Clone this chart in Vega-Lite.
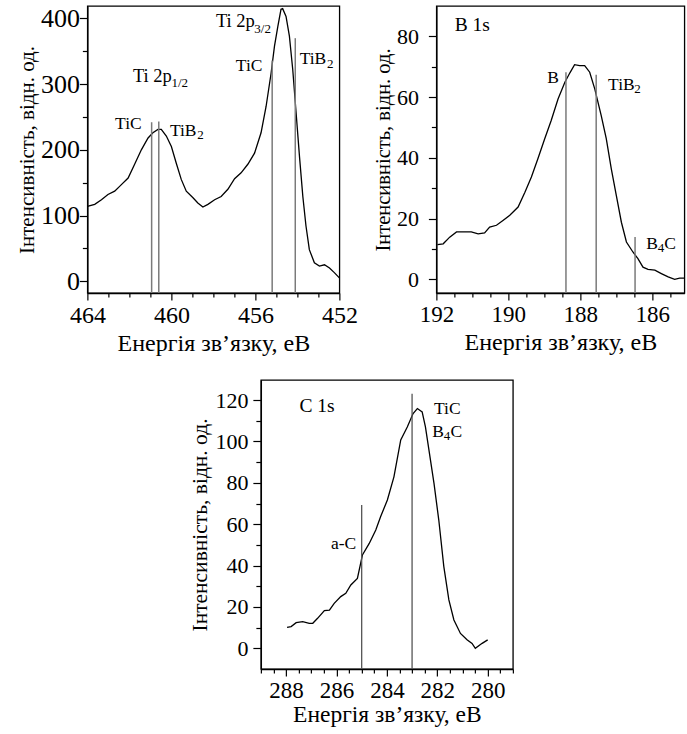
{
  "$schema": "https://vega.github.io/schema/vega-lite/v6.json",
  "padding": {"left": 15, "top": 4, "right": 0, "bottom": 0},
  "config": {
    "font": "Liberation Serif",
    "view": {"stroke": "black", "strokeWidth": 1.3},
    "axis": {
      "domainColor": "black", "domainWidth": 1.3, "tickColor": "black", "tickWidth": 1.2,
      "labelFont": "Liberation Serif", "labelFontSize": 23.5, "labelColor": "black",
      "titleFont": "Liberation Serif", "titleFontSize": 21, "titleFontWeight": "normal", "titleColor": "black",
      "grid": false, "labelFlush": false, "labelOverlap": false, "tickCount": 100
    },
    "text": {"font": "Liberation Serif", "color": "black"}
  },
  "datasets": {
    "ti": [
      {"e":464.0,"i":114},{"e":463.65,"i":117},{"e":463.33,"i":124},{"e":463.02,"i":132},{"e":462.70,"i":137},
      {"e":462.38,"i":147},{"e":462.06,"i":157},{"e":461.75,"i":178},{"e":461.43,"i":200},{"e":461.11,"i":218},
      {"e":460.88,"i":226},{"e":460.64,"i":231},{"e":460.48,"i":231},{"e":460.24,"i":221},{"e":460.0,"i":205},
      {"e":459.77,"i":180},{"e":459.53,"i":155},{"e":459.29,"i":137},{"e":458.97,"i":127},{"e":458.74,"i":119},
      {"e":458.50,"i":113},{"e":458.26,"i":117},{"e":457.94,"i":124},{"e":457.63,"i":129},{"e":457.31,"i":140},
      {"e":456.99,"i":156},{"e":456.68,"i":165},{"e":456.36,"i":178},{"e":456.04,"i":195},{"e":455.73,"i":226},
      {"e":455.49,"i":266},{"e":455.25,"i":317},{"e":455.09,"i":358},{"e":454.93,"i":388},{"e":454.78,"i":414},
      {"e":454.70,"i":415},{"e":454.54,"i":403},{"e":454.38,"i":373},{"e":454.22,"i":322},{"e":454.06,"i":256},
      {"e":453.90,"i":190},{"e":453.74,"i":129},{"e":453.59,"i":84},{"e":453.43,"i":48},{"e":453.19,"i":28},
      {"e":452.95,"i":23},{"e":452.71,"i":25},{"e":452.47,"i":20},{"e":452.24,"i":13},{"e":452.0,"i":5}
    ],
    "tiLines": [{"e":460.94,"top":242},{"e":460.6,"top":243},{"e":455.2,"top":336},{"e":454.1,"top":370}],
    "tiText": [
      {"e":462.68,"i":231,"t":"TiC","k":"m"},
      {"e":460.07,"i":221,"t":"TiB","k":"m"},
      {"e":458.77,"i":216,"t":"2","k":"s"},
      {"e":461.83,"i":303,"t":"Ti 2p","k":"p"},
      {"e":460.0,"i":296,"t":"1/2","k":"s"},
      {"e":457.88,"i":387,"t":"Ti 2p","k":"p"},
      {"e":456.05,"i":378,"t":"3/2","k":"s"},
      {"e":456.93,"i":320,"t":"TiC","k":"m"},
      {"e":453.89,"i":330,"t":"TiB","k":"m"},
      {"e":452.59,"i":325,"t":"2","k":"s"}
    ],
    "b": [
      {"e":191.97,"i":11.4},{"e":191.81,"i":11.7},{"e":191.63,"i":13.9},{"e":191.44,"i":15.6},{"e":191.21,"i":15.6},
      {"e":191.03,"i":15.6},{"e":190.84,"i":15.0},{"e":190.66,"i":15.3},{"e":190.52,"i":17.2},{"e":190.33,"i":17.8},
      {"e":190.15,"i":19.4},{"e":189.96,"i":21.1},{"e":189.73,"i":23.8},{"e":189.54,"i":28.7},{"e":189.36,"i":33.7},
      {"e":189.18,"i":39.7},{"e":188.99,"i":46.3},{"e":188.81,"i":52.3},{"e":188.62,"i":59.4},{"e":188.43,"i":64.9},
      {"e":188.29,"i":68.0},{"e":188.16,"i":70.7},{"e":188.02,"i":70.4},{"e":187.88,"i":70.4},{"e":187.74,"i":68.2},
      {"e":187.60,"i":62.7},{"e":187.42,"i":53.9},{"e":187.28,"i":46.3},{"e":187.14,"i":36.4},{"e":187.0,"i":27.6},
      {"e":186.86,"i":18.8},{"e":186.72,"i":12.3},{"e":186.54,"i":9.0},{"e":186.40,"i":6.8},{"e":186.26,"i":4.0},
      {"e":186.12,"i":3.3},{"e":185.93,"i":3.0},{"e":185.75,"i":1.9},{"e":185.56,"i":0.8},{"e":185.38,"i":0.0},
      {"e":185.24,"i":0.4},{"e":185.11,"i":0.4}
    ],
    "bLines": [{"e":188.4,"top":68.2},{"e":187.56,"top":67.4},{"e":186.48,"top":13.9}],
    "bText": [
      {"e":191.49,"i":81.9,"t":"B 1s","k":"b"},
      {"e":188.92,"i":64.8,"t":"B","k":"m"},
      {"e":187.23,"i":62.2,"t":"TiB","k":"m"},
      {"e":186.5,"i":61.2,"t":"2","k":"s"},
      {"e":186.17,"i":10.1,"t":"B","k":"m"},
      {"e":185.85,"i":9.1,"t":"4","k":"s"},
      {"e":185.67,"i":10.1,"t":"C","k":"m"}
    ],
    "c": [
      {"e":287.96,"i":10.1},{"e":287.80,"i":10.5},{"e":287.60,"i":12.4},{"e":287.34,"i":12.9},{"e":287.08,"i":12.1},
      {"e":286.94,"i":12.1},{"e":286.75,"i":14.5},{"e":286.48,"i":18.2},{"e":286.28,"i":18.5},{"e":286.09,"i":21.7},
      {"e":285.83,"i":25.0},{"e":285.63,"i":26.6},{"e":285.43,"i":30.6},{"e":285.17,"i":33.8},{"e":284.97,"i":45.1},
      {"e":284.70,"i":50.7},{"e":284.44,"i":57.2},{"e":284.25,"i":63.6},{"e":283.98,"i":71.7},{"e":283.72,"i":82.9},
      {"e":283.45,"i":100.7},{"e":283.19,"i":107.0},{"e":282.96,"i":113.5},{"e":282.79,"i":115.9},{"e":282.60,"i":114.3},
      {"e":282.47,"i":107.0},{"e":282.33,"i":95.8},{"e":282.13,"i":79.7},{"e":281.94,"i":62.0},{"e":281.74,"i":39.5},
      {"e":281.54,"i":23.4},{"e":281.34,"i":13.7},{"e":281.08,"i":7.2},{"e":280.82,"i":4.1},{"e":280.62,"i":2.4},
      {"e":280.49,"i":0.0},{"e":280.22,"i":2.4},{"e":280.0,"i":4.1}
    ],
    "cLines": [{"e":285.0,"top":69.3},{"e":283.0,"top":123}],
    "cText": [
      {"e":287.47,"i":114.3,"t":"C 1s","k":"b"},
      {"e":286.22,"i":48.2,"t":"a-C","k":"m"},
      {"e":282.13,"i":113.5,"t":"TiC","k":"m"},
      {"e":282.20,"i":102.3,"t":"B","k":"m"},
      {"e":281.74,"i":100.8,"t":"4","k":"s"},
      {"e":281.48,"i":102.3,"t":"C","k":"m"}
    ]
  },
  "center": true,
  "spacing": 23,
  "vconcat": [
    {
      "bounds": "flush",
      "spacing": 97,
      "hconcat": [
        {
          "width": 252, "height": 287,
          "layer": [
            {
              "data": {"name": "ti"},
              "mark": {"type": "line", "color": "black", "strokeWidth": 1.3},
              "encoding": {
                "x": {"field": "e", "type": "quantitative",
                  "scale": {"domain": [452, 464], "reverse": true, "nice": false, "zero": false},
                  "axis": {"title": "Енергія зв’язку, еВ", "values": [452,453,454,455,456,457,458,459,460,461,462,463,464], "tickCount": 100, "format": ".0f",
                    "labelExpr": "datum.value % 4 === 0 ? datum.label : ''", "labelOverlap": false,
                    "tickSize": {"condition": {"test": "datum.value % 4 === 0", "value": 7}, "value": 4},
                    "labelFontSize": 24, "titleFontSize": 24, "labelPadding": 3, "titlePadding": 4}},
                "y": {"field": "i", "type": "quantitative",
                  "scale": {"domain": [-18, 419], "nice": false, "zero": false},
                  "axis": {"title": "Інтенсивність, відн. од.", "values": [0,50,100,150,200,250,300,350,400], "tickCount": 100, "format": ".0f",
                    "labelExpr": "datum.value % 100 === 0 ? datum.label : ''", "labelOverlap": false,
                    "tickSize": {"condition": {"test": "datum.value % 100 === 0", "value": 8}, "value": 5},
                    "labelFontSize": 26, "titleFontSize": 21, "labelPadding": 0, "titlePadding": 3}}
              }
            },
            {
              "data": {"name": "tiLines"},
              "mark": {"type": "rule", "color": "#7a7a7a", "strokeWidth": 1.5},
              "encoding": {"x": {"field": "e", "type": "quantitative"}, "y": {"field": "top", "type": "quantitative"}, "y2": {"datum": -18}}
            },
            {
              "data": {"name": "tiText"}, "transform": [{"filter": "datum.k === 'm'"}],
              "mark": {"type": "text", "align": "left", "baseline": "alphabetic", "fontSize": 17.5},
              "encoding": {"x": {"field": "e", "type": "quantitative"}, "y": {"field": "i", "type": "quantitative"}, "text": {"field": "t", "type": "nominal"}}
            },
            {
              "data": {"name": "tiText"}, "transform": [{"filter": "datum.k === 'p'"}],
              "mark": {"type": "text", "align": "left", "baseline": "alphabetic", "fontSize": 18.5},
              "encoding": {"x": {"field": "e", "type": "quantitative"}, "y": {"field": "i", "type": "quantitative"}, "text": {"field": "t", "type": "nominal"}}
            },
            {
              "data": {"name": "tiText"}, "transform": [{"filter": "datum.k === 's'"}],
              "mark": {"type": "text", "align": "left", "baseline": "alphabetic", "fontSize": 13},
              "encoding": {"x": {"field": "e", "type": "quantitative"}, "y": {"field": "i", "type": "quantitative"}, "text": {"field": "t", "type": "nominal"}}
            }
          ]
        },
        {
          "width": 248, "height": 287,
          "layer": [
            {
              "data": {"name": "b"},
              "mark": {"type": "line", "color": "black", "strokeWidth": 1.3},
              "encoding": {
                "x": {"field": "e", "type": "quantitative",
                  "scale": {"domain": [185.11, 192], "reverse": true, "nice": false, "zero": false},
                  "axis": {"title": "Енергія зв’язку, еВ", "values": [185.5,186,186.5,187,187.5,188,188.5,189,189.5,190,190.5,191,191.5,192], "tickCount": 100, "format": ".0f",
                    "labelExpr": "datum.value % 2 === 0 ? datum.label : ''", "labelOverlap": false,
                    "tickSize": {"condition": {"test": "datum.value % 2 === 0", "value": 7}, "value": 4},
                    "labelFontSize": 23, "titleFontSize": 24, "labelPadding": 3, "titlePadding": 4}},
                "y": {"field": "i", "type": "quantitative",
                  "scale": {"domain": [-4.5, 90], "nice": false, "zero": false},
                  "axis": {"title": "Інтенсивність, відн. од.", "values": [0,10,20,30,40,50,60,70,80], "tickCount": 100, "format": ".0f",
                    "labelExpr": "datum.value % 20 === 0 ? datum.label : ''", "labelOverlap": false,
                    "tickSize": {"condition": {"test": "datum.value % 20 === 0", "value": 8}, "value": 5},
                    "labelFontSize": 22, "titleFontSize": 20.5, "labelPadding": 10, "titlePadding": 3}}
              }
            },
            {
              "data": {"name": "bLines"},
              "mark": {"type": "rule", "color": "#7a7a7a", "strokeWidth": 1.5},
              "encoding": {"x": {"field": "e", "type": "quantitative"}, "y": {"field": "top", "type": "quantitative"}, "y2": {"datum": -4.5}}
            },
            {
              "data": {"name": "bText"}, "transform": [{"filter": "datum.k === 'm'"}],
              "mark": {"type": "text", "align": "left", "baseline": "alphabetic", "fontSize": 17.5},
              "encoding": {"x": {"field": "e", "type": "quantitative"}, "y": {"field": "i", "type": "quantitative"}, "text": {"field": "t", "type": "nominal"}}
            },
            {
              "data": {"name": "bText"}, "transform": [{"filter": "datum.k === 'b'"}],
              "mark": {"type": "text", "align": "left", "baseline": "alphabetic", "fontSize": 19.5},
              "encoding": {"x": {"field": "e", "type": "quantitative"}, "y": {"field": "i", "type": "quantitative"}, "text": {"field": "t", "type": "nominal"}}
            },
            {
              "data": {"name": "bText"}, "transform": [{"filter": "datum.k === 's'"}],
              "mark": {"type": "text", "align": "left", "baseline": "alphabetic", "fontSize": 13},
              "encoding": {"x": {"field": "e", "type": "quantitative"}, "y": {"field": "i", "type": "quantitative"}, "text": {"field": "t", "type": "nominal"}}
            }
          ]
        }
      ]
    },
    {
      "width": 252, "height": 289,
      "layer": [
        {
          "data": {"name": "c"},
          "mark": {"type": "line", "color": "black", "strokeWidth": 1.3},
          "encoding": {
            "x": {"field": "e", "type": "quantitative",
              "scale": {"domain": [279, 289], "reverse": true, "nice": false, "zero": false},
              "axis": {"title": "Енергія зв’язку, еВ", "values": [279,279.5,280,280.5,281,281.5,282,282.5,283,283.5,284,284.5,285,285.5,286,286.5,287,287.5,288,288.5,289], "tickCount": 100, "format": ".0f",
                "labelExpr": "datum.value % 2 === 0 ? datum.label : ''", "labelOverlap": false,
                "tickSize": {"condition": {"test": "datum.value % 2 === 0", "value": 7}, "value": 4},
                "labelFontSize": 23, "titleFontSize": 23.5, "labelPadding": 3, "titlePadding": 0}},
            "y": {"field": "i", "type": "quantitative",
              "scale": {"domain": [-10, 129.7], "nice": false, "zero": false},
              "axis": {"title": "Інтенсивність, відн. од.", "values": [0,10,20,30,40,50,60,70,80,90,100,110,120], "tickCount": 100, "format": ".0f",
                "labelExpr": "datum.value % 20 === 0 ? datum.label : ''", "labelOverlap": false,
                "tickSize": {"condition": {"test": "datum.value % 20 === 0", "value": 8}, "value": 5},
                "labelFontSize": 22, "titleFontSize": 21.5, "labelPadding": 5, "titlePadding": 3}}
          }
        },
        {
          "data": {"name": "cLines"},
          "mark": {"type": "rule", "color": "#555555", "strokeWidth": 1.3},
          "encoding": {"x": {"field": "e", "type": "quantitative"}, "y": {"field": "top", "type": "quantitative"}, "y2": {"datum": -10}}
        },
        {
          "data": {"name": "cText"}, "transform": [{"filter": "datum.k === 'm'"}],
          "mark": {"type": "text", "align": "left", "baseline": "alphabetic", "fontSize": 17.5},
          "encoding": {"x": {"field": "e", "type": "quantitative"}, "y": {"field": "i", "type": "quantitative"}, "text": {"field": "t", "type": "nominal"}}
        },
        {
          "data": {"name": "cText"}, "transform": [{"filter": "datum.k === 'b'"}],
          "mark": {"type": "text", "align": "left", "baseline": "alphabetic", "fontSize": 19.5},
          "encoding": {"x": {"field": "e", "type": "quantitative"}, "y": {"field": "i", "type": "quantitative"}, "text": {"field": "t", "type": "nominal"}}
        },
        {
          "data": {"name": "cText"}, "transform": [{"filter": "datum.k === 's'"}],
          "mark": {"type": "text", "align": "left", "baseline": "alphabetic", "fontSize": 13},
          "encoding": {"x": {"field": "e", "type": "quantitative"}, "y": {"field": "i", "type": "quantitative"}, "text": {"field": "t", "type": "nominal"}}
        }
      ]
    }
  ]
}
